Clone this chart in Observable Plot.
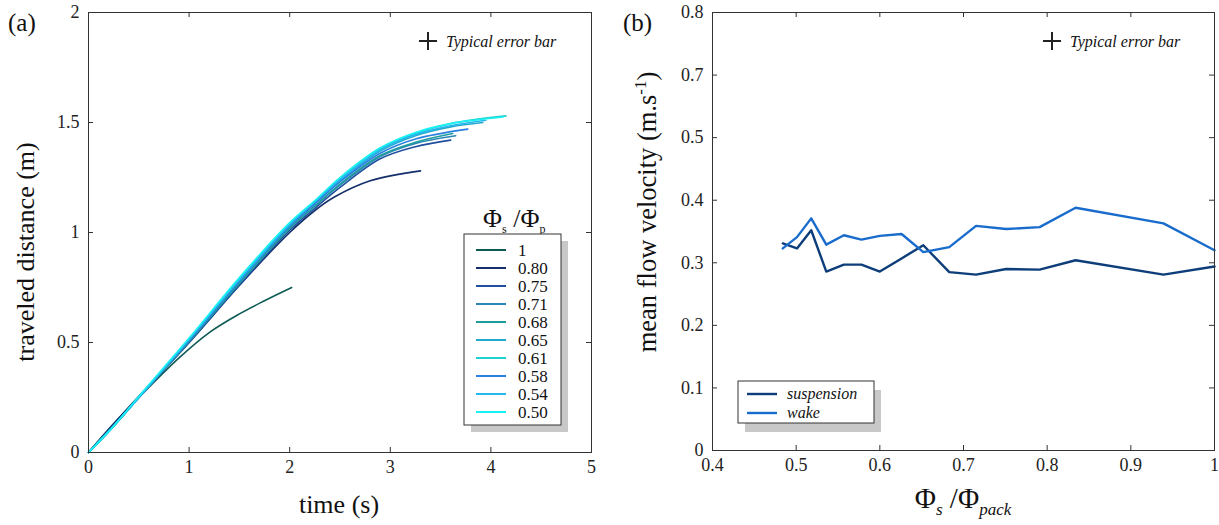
<!DOCTYPE html>
<html><head><meta charset="utf-8">
<script src="https://cdn.jsdelivr.net/npm/d3@7"></script>
<script src="https://cdn.jsdelivr.net/npm/@observablehq/plot@0.6"></script>
<style>
body{margin:0;background:#fff;font-family:'Liberation Serif','DejaVu Serif',serif;}
#wrap{position:relative;width:1219px;height:525px;overflow:hidden;background:#fff;font-family:'Liberation Serif','DejaVu Serif',serif;}
#wrap svg{position:absolute;top:0;}
#wrap svg text{font-family:'Liberation Serif','DejaVu Serif',serif !important;}
</style></head><body><div id="wrap"></div>
<script>
// ---- Panel (a): traveled distance vs time, one run per Φs/Φp ratio ----
const ratioLabels = ["1","0.80","0.75","0.71","0.68","0.65","0.61","0.58","0.54","0.50"];
const ratioColors = ["#0d5a55","#142f6b","#1f4f9e","#2a86b6","#1e9c9c","#22a9cc","#20cfcf","#2a80e0","#25b8f0","#18f2f2"];
const run_100 = [[0,0],[0.25,0.13],[0.5,0.25],[0.9,0.43],[1.2,0.545],[1.5,0.63],[1.75,0.69],[2.02,0.75]];
const run_080 = [[0,0],[0.25,0.13],[0.5,0.255],[1,0.5],[1.5,0.76],[2,1.0],[2.25,1.1],[2.44,1.16],[2.8,1.235],[3.3,1.28]];
const run_075 = [[0,0],[0.25,0.125],[0.5,0.25],[1,0.5],[1.5,0.76],[2,1.01],[2.25,1.11],[2.5,1.205],[2.9,1.335],[3.25,1.39],[3.6,1.42]];
const run_071 = [[0,0],[0.25,0.12],[0.5,0.25],[1,0.505],[1.5,0.77],[2,1.02],[2.25,1.12],[2.5,1.215],[2.9,1.345],[3.25,1.405],[3.65,1.44]];
const run_068 = [[0,0],[0.25,0.12],[0.5,0.25],[1,0.505],[1.5,0.77],[2,1.02],[2.25,1.12],[2.5,1.22],[2.9,1.35],[3.25,1.41],[3.62,1.45]];
const run_065 = [[0,0],[0.25,0.12],[0.5,0.25],[1,0.51],[1.5,0.78],[2,1.03],[2.25,1.135],[2.5,1.235],[2.9,1.37],[3.25,1.44],[3.6,1.48],[3.92,1.5]];
const run_061 = [[0,0],[0.25,0.12],[0.5,0.25],[1,0.515],[1.5,0.79],[2,1.04],[2.25,1.14],[2.5,1.245],[2.9,1.38],[3.25,1.45],[3.6,1.495],[4.15,1.53]];
const run_058 = [[0,0],[0.25,0.12],[0.5,0.25],[1,0.51],[1.5,0.78],[2,1.03],[2.25,1.13],[2.5,1.23],[2.9,1.36],[3.25,1.425],[3.77,1.47]];
const run_054 = [[0,0],[0.25,0.12],[0.5,0.25],[1,0.515],[1.5,0.785],[2,1.035],[2.25,1.14],[2.5,1.24],[2.9,1.375],[3.25,1.445],[3.6,1.485],[3.95,1.51]];
const run_050 = [[0,0],[0.25,0.12],[0.5,0.255],[1,0.52],[1.5,0.795],[2,1.045],[2.25,1.145],[2.5,1.25],[2.9,1.385],[3.25,1.455],[3.6,1.495],[4.12,1.525]];
const runsA = [run_100,run_080,run_075,run_071,run_068,run_065,run_061,run_058,run_054,run_050];
const xTicksA = [0,1,2,3,4,5];
const yTicksA = [0,0.5,1,1.5,2];

// ---- Panel (b): mean flow velocity vs Φs/Φpack ----
const phiRatio    = [0.484,0.501,0.518,0.536,0.557,0.578,0.600,0.626,0.652,0.683,0.715,0.751,0.791,0.834,0.939,1.0];
const vSuspension = [0.331,0.323,0.352,0.286,0.297,0.297,0.286,0.307,0.328,0.285,0.281,0.290,0.289,0.304,0.281,0.294];
const vWake       = [0.323,0.341,0.371,0.329,0.344,0.337,0.343,0.346,0.317,0.325,0.359,0.354,0.357,0.388,0.363,0.320];
const seriesNamesB = ["suspension","wake"];
const seriesColorsB = ["#0d3e7a","#1a6ccc"];
const xTicksB = [0.4,0.5,0.6,0.7,0.8,0.9,1];
const yTicksB = [0,0.1,0.2,0.3,0.4,0.5,0.6,0.7];
const yTickLabelsB = ["0","0.1","0.2","0.3","0.4","0.5","0.7","0.8"];

const FONT = "'Liberation Serif', 'DejaVu Serif', serif";
const fmt = d3.format("~g");
const wrap = document.getElementById("wrap");

// Panel (a)
const A = {w:609, h:525, ml:88, mr:18, mt:12, mb:73};
const innerWA = A.w - A.ml - A.mr, innerHA = A.h - A.mt - A.mb;
const plotA = Plot.plot({
  width:A.w, height:A.h, marginLeft:A.ml, marginRight:A.mr, marginTop:A.mt, marginBottom:A.mb,
  style:{fontFamily:FONT, fontSize:"18px", color:"#222", background:"transparent", overflow:"visible"},
  x:{domain:[0,5]}, y:{domain:[0,2]},
  marks:[
    ...runsA.map((r,i)=>Plot.line(r,{x:d=>d[0], y:d=>d[1], stroke:ratioColors[i], strokeWidth:1.6, curve:"catmull-rom"})),
    Plot.frame({stroke:"#333", strokeWidth:1}),
    Plot.tickX(xTicksA,{x:d=>d, insetTop:innerHA-5, stroke:"#333"}),
    Plot.tickX(xTicksA,{x:d=>d, insetBottom:innerHA-5, stroke:"#333"}),
    Plot.tickY(yTicksA,{y:d=>d, insetRight:innerWA-5, stroke:"#333"}),
    Plot.tickY(yTicksA,{y:d=>d, insetLeft:innerWA-5, stroke:"#333"}),
    Plot.axisX(xTicksA,{tickSize:0, tickPadding:8, label:null, tickFormat:fmt, fontSize:18}),
    Plot.axisY(yTicksA,{tickSize:0, tickPadding:9, label:null, tickFormat:fmt, fontSize:18})
  ]
});
plotA.style.left = "0px";
wrap.appendChild(plotA);

// Panel (b)
const B = {left:609, w:610, h:525, ml:103, mr:5, mt:12, mb:75};
const innerWB = B.w - B.ml - B.mr, innerHB = B.h - B.mt - B.mb;
const rowsB = phiRatio.flatMap((p,i)=>[
  {phi:p, v:vSuspension[i], s:seriesNamesB[0]},
  {phi:p, v:vWake[i], s:seriesNamesB[1]}
]);
const plotB = Plot.plot({
  width:B.w, height:B.h, marginLeft:B.ml, marginRight:B.mr, marginTop:B.mt, marginBottom:B.mb,
  style:{fontFamily:FONT, fontSize:"18px", color:"#222", background:"transparent", overflow:"visible"},
  x:{domain:[0.4,1]}, y:{domain:[0,0.7]},
  color:{domain:seriesNamesB, range:seriesColorsB},
  marks:[
    Plot.line(rowsB,{x:"phi", y:"v", stroke:"s", z:"s", strokeWidth:2.4}),
    Plot.frame({stroke:"#333", strokeWidth:1}),
    Plot.tickX(xTicksB,{x:d=>d, insetTop:innerHB-5, stroke:"#333"}),
    Plot.tickX(xTicksB,{x:d=>d, insetBottom:innerHB-5, stroke:"#333"}),
    Plot.tickY(yTicksB,{y:d=>d, insetRight:innerWB-5, stroke:"#333"}),
    Plot.tickY(yTicksB,{y:d=>d, insetLeft:innerWB-5, stroke:"#333"}),
    Plot.axisX(xTicksB,{tickSize:0, tickPadding:8, label:null, tickFormat:fmt, fontSize:18}),
    Plot.axisY(yTicksB,{tickSize:0, tickPadding:9, label:null, tickFormat:d=>yTickLabelsB[Math.round(d*10)], fontSize:18})
  ]
});
plotB.style.left = B.left + "px";
wrap.appendChild(plotB);

// Overlay: panel letters, axis titles, legends, error-bar notes
const ov = d3.select(wrap).append("svg").attr("width",1219).attr("height",525)
  .style("left","0px").style("pointer-events","none").attr("font-family",FONT).attr("fill","#111");

ov.append("text").attr("x",8).attr("y",31).attr("font-size",25).text("(a)");
ov.append("text").attr("x",623).attr("y",31).attr("font-size",25).text("(b)");

// axis titles (a)
ov.append("text").attr("transform","translate(34,252) rotate(-90)").attr("text-anchor","middle")
  .attr("font-size",26).text("traveled distance (m)");
ov.append("text").attr("x",339).attr("y",513).attr("text-anchor","middle").attr("font-size",26).text("time (s)");

// axis titles (b)
const yl = ov.append("text").attr("transform","translate(656,212) rotate(-90)").attr("text-anchor","middle").attr("font-size",26.5);
yl.append("tspan").text("mean flow velocity (m.s");
yl.append("tspan").attr("font-size",17).attr("dy",-10).text("-1");
yl.append("tspan").attr("dy",10).text(")");
const xl = ov.append("text").attr("x",963).attr("y",508).attr("text-anchor","middle").attr("font-size",29);
xl.append("tspan").text("Φ");
xl.append("tspan").attr("font-size",17).attr("font-style","italic").attr("dy",7).text("s");
xl.append("tspan").attr("dy",-7).text(" /Φ");
xl.append("tspan").attr("font-size",17).attr("font-style","italic").attr("dy",7).text("pack");

// legend (a)
const lt = ov.append("text").attr("x",483).attr("y",227).attr("font-size",26);
lt.append("tspan").text("Φ");
lt.append("tspan").attr("font-size",12).attr("dy",6).text("s");
lt.append("tspan").attr("dy",-6).text(" /Φ");
lt.append("tspan").attr("font-size",12).attr("dy",6).text("p");
ov.append("rect").attr("x",471).attr("y",241).attr("width",97).attr("height",191).attr("fill","#c8c8c8");
ov.append("rect").attr("x",464).attr("y",234).attr("width",97).attr("height",191).attr("fill","#fff").attr("stroke","#333");
ratioLabels.forEach((lab,i)=>{
  const y = 250 + 18*i;
  ov.append("line").attr("x1",476).attr("x2",506).attr("y1",y).attr("y2",y).attr("stroke",ratioColors[i]).attr("stroke-width",2);
  ov.append("text").attr("x",518).attr("y",y+6).attr("font-size",17).text(lab);
});

// legend (b)
ov.append("rect").attr("x",745).attr("y",390).attr("width",136).attr("height",42).attr("fill","#c8c8c8");
ov.append("rect").attr("x",738).attr("y",381).attr("width",136).attr("height",42).attr("fill","#fff").attr("stroke","#333");
seriesNamesB.forEach((nm,i)=>{
  const y = 394 + 19*i;
  ov.append("line").attr("x1",747).attr("x2",777).attr("y1",y).attr("y2",y).attr("stroke",seriesColorsB[i]).attr("stroke-width",2.4);
  ov.append("text").attr("x",787).attr("y",y+5).attr("font-size",16).attr("font-style","italic").text(nm);
});

// typical error bar notes
[[428,446],[1052,1070]].forEach(([cx,tx])=>{
  ov.append("line").attr("x1",cx-9).attr("x2",cx+9).attr("y1",41).attr("y2",41).attr("stroke","#222").attr("stroke-width",2);
  ov.append("line").attr("x1",cx).attr("x2",cx).attr("y1",32).attr("y2",50).attr("stroke","#222").attr("stroke-width",2);
  ov.append("text").attr("x",tx).attr("y",47).attr("font-size",16).attr("font-style","italic").text("Typical error bar");
});
</script></body></html>
